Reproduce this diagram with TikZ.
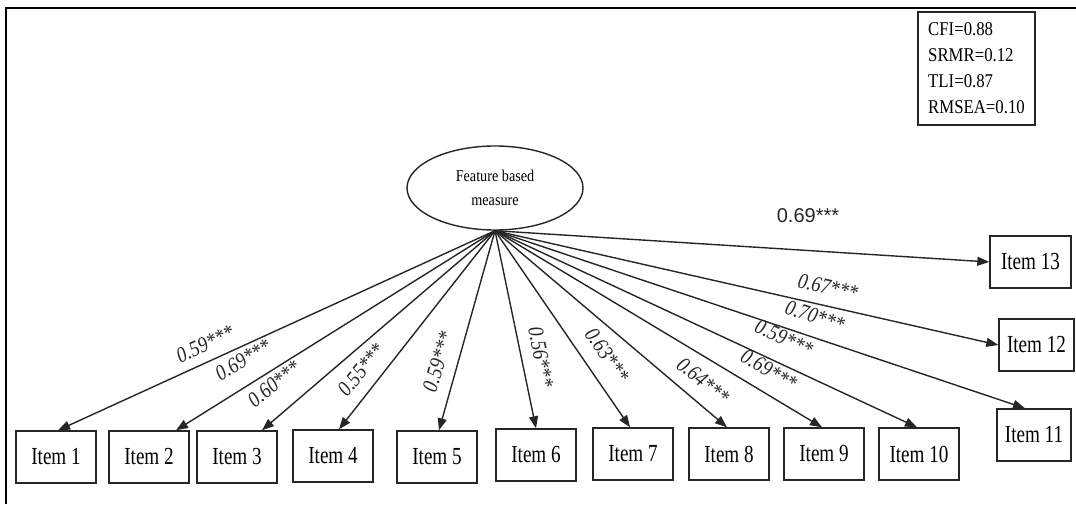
\documentclass[tikz,border=0pt]{standalone}
\usepackage{fontspec}
\setmainfont{Liberation Serif}
\newfontfamily\itemfont[FakeStretch=0.78]{Liberation Serif}
\newfontfamily\coeffont[FakeStretch=0.85]{Liberation Serif}
\newfontfamily\fitfont[FakeStretch=0.86]{Liberation Serif}
\newfontfamily\arialfont{Liberation Sans}
\usetikzlibrary{arrows.meta,shapes.geometric}

\begin{document}
\begin{tikzpicture}[x=1pt,y=1pt,
  itembox/.style={draw=black!85,line width=1.4pt,minimum width=80pt,minimum height=52pt,
    inner sep=0pt,font=\itemfont\fontsize{24.5}{28}\selectfont},
  load/.style={draw=black!85,line width=1.4pt,-{Triangle[length=12pt,width=9pt]}},
  coef/.style={font=\coeffont\itshape\fontsize{22}{24}\selectfont,inner sep=0pt,text=black!85}]
\useasboundingbox (0,0) rectangle (1076,504);

% outer frame (left and top edges only)
\draw[line width=2.2pt] (6,0) -- (6,496) -- (1076,496);

% latent factor
\node[ellipse,draw=black!85,line width=1.4pt,minimum width=176pt,minimum height=84pt,
  inner sep=0pt,align=center,font=\fitfont\fontsize{16.5}{24}\selectfont] (fb) at (495,316)
  {Feature based\\measure};

% fit indices
\node[draw=black!85,line width=1.4pt,minimum width=117pt,minimum height=113pt,align=left,
  font=\fitfont\fontsize{19.5}{26}\selectfont] (fit) at (976.5,435.5)
  {CFI=0.88\\SRMR=0.12\\TLI=0.87\\RMSEA=0.10};

% indicator items
\node[itembox] (i1) at (56,47) {Item 1};
\node[itembox] (i2) at (149,47) {Item 2};
\node[itembox] (i3) at (237,47) {Item 3};
\node[itembox] (i4) at (333,48) {Item 4};
\node[itembox] (i5) at (437,47) {Item 5};
\node[itembox] (i6) at (536,49) {Item 6};
\node[itembox] (i7) at (633,50) {Item 7};
\node[itembox] (i8) at (729,50) {Item 8};
\node[itembox] (i9) at (824,50) {Item 9};
\node[itembox] (i10) at (919,50) {Item 10};
\node[itembox,minimum width=74pt] (i11) at (1034,69) {Item 11};
\node[itembox,minimum width=75pt] (i12) at (1036.5,159) {Item 12};
\node[itembox,minimum width=81pt] (i13) at (1030.5,242) {Item 13};

% loadings
\draw[load] (fb.south) -- ([xshift=2pt]i1.north);
\draw[load] (fb.south) -- ([xshift=27pt]i2.north);
\draw[load] (fb.south) -- ([xshift=25pt]i3.north);
\draw[load] (fb.south) -- ([xshift=6pt]i4.north);
\draw[load] (fb.south) -- ([xshift=2pt]i5.north);
\draw[load] (fb.south) -- (i6.north);
\draw[load] (fb.south) -- ([xshift=-3pt]i7.north);
\draw[load] (fb.south) -- ([xshift=-2pt]i8.north);
\draw[load] (fb.south) -- ([xshift=-2pt]i9.north);
\draw[load] (fb.south) -- ([xshift=-2pt]i10.north);
\draw[load] (fb.south) -- ([xshift=-9pt]i11.north);
\draw[load] (fb.south) -- (i12.west);
\draw[load] (fb.south) -- (i13.west);

% loading coefficients
\node[coef,rotate=24.3] (c1) at (205,160) {0.59***};
\node[coef,rotate=30.8] (c2) at (243,144) {0.69***};
\node[coef,rotate=39] (c3) at (274,120) {0.60***};
\node[coef,rotate=50.4] (c4) at (361,134) {0.55***};
\node[coef,rotate=73] (c5) at (438,142) {0.59***};
\node[coef,rotate=-79] (c6) at (541,147) {0.56***};
\node[coef,rotate=-55.4] (c7) at (607,149) {0.63***};
\node[coef,rotate=-39.9] (c8) at (703,123) {0.64***};
\node[coef,rotate=-30.6] (c9) at (769,134) {0.69***};
\node[coef,rotate=-24.5] (c10) at (784,166) {0.59***};
\node[coef,rotate=-18.4] (c11) at (815,188) {0.70***};
\node[coef,rotate=-12.7] (c12) at (828,217) {0.67***};
\node[font=\arialfont\fontsize{20}{22}\selectfont,text=black!85] (c13) at (808,288) {0.69***};
\end{tikzpicture}
\end{document}
